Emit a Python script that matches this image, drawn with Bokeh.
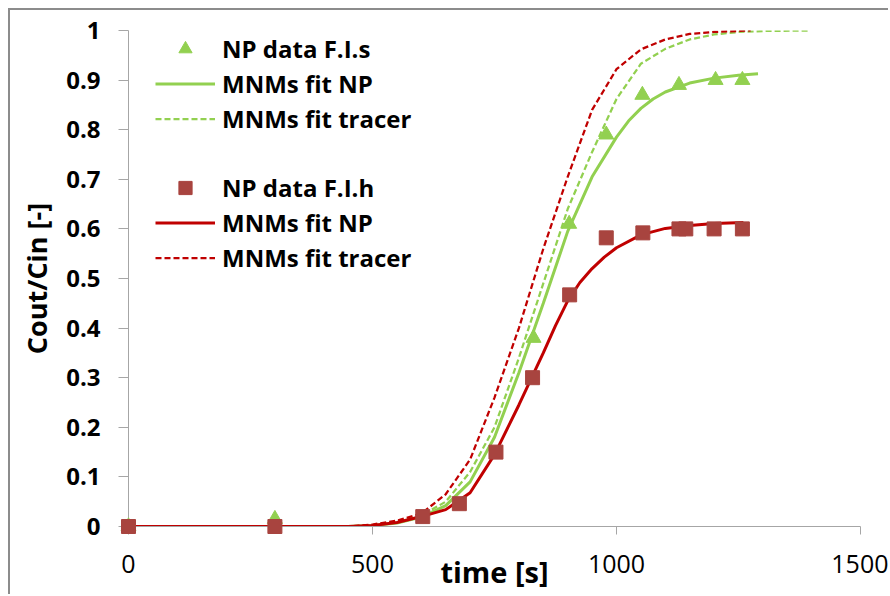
from bokeh.plotting import figure
from bokeh.models import (Legend, LegendItem, FixedTicker, CustomJSTickFormatter,
                          Range1d)
from bokeh.embed import file_html
from bokeh.resources import INLINE

# ---------------- data ----------------
# measured points, series F.I.s (green triangles)
t_data_s = [0, 300, 830, 903, 979, 1053, 1128, 1203, 1258]
c_data_s = [0.0, 0.015, 0.38, 0.61, 0.79, 0.87, 0.89, 0.90, 0.90]

# measured points, series F.I.h (red squares)
t_data_h = [0, 300, 603, 678, 753, 828, 904, 979, 1054, 1128, 1142, 1200, 1258]
c_data_h = [0.0, 0.0, 0.02, 0.046, 0.15, 0.30, 0.467, 0.582, 0.592, 0.60, 0.60, 0.60, 0.60]

# MNMs fit NP, F.I.s (green solid)
t_fit_np_s = [0, 450, 500, 550, 600, 650, 700, 750, 800, 850, 900, 950, 1000,
              1025, 1050, 1075, 1100, 1150, 1200, 1250, 1290]
c_fit_np_s = [0.0, 0.0, 0.002, 0.007, 0.019, 0.042, 0.09, 0.18, 0.31, 0.45, 0.595,
              0.705, 0.785, 0.818, 0.843, 0.862, 0.876, 0.894, 0.904, 0.91, 0.913]

# MNMs fit tracer, F.I.s (green dashed)
t_fit_tr_s = [0, 450, 500, 550, 600, 650, 700, 750, 800, 850, 900, 950, 1000,
              1050, 1100, 1150, 1200, 1250, 1300, 1395]
c_fit_tr_s = [0.0, 0.0, 0.003, 0.01, 0.022, 0.05, 0.11, 0.2, 0.34, 0.49, 0.64,
              0.755, 0.862, 0.933, 0.963, 0.982, 0.992, 0.997, 0.999, 1.0]

# MNMs fit NP, F.I.h (red solid)
t_fit_np_h = [0, 450, 500, 550, 600, 650, 700, 750, 800, 850, 875, 900, 925, 950,
              975, 1000, 1050, 1100, 1150, 1200, 1260]
c_fit_np_h = [0.0, 0.0, 0.002, 0.008, 0.02, 0.034, 0.068, 0.145, 0.245, 0.35, 0.405,
              0.455, 0.492, 0.52, 0.543, 0.562, 0.588, 0.601, 0.607, 0.611, 0.613]

# MNMs fit tracer, F.I.h (red dashed)
t_fit_tr_h = [0, 450, 500, 550, 600, 650, 700, 750, 800, 850, 900, 950, 1000,
              1050, 1100, 1150, 1200, 1275]
c_fit_tr_h = [0.0, 0.0, 0.004, 0.012, 0.026, 0.065, 0.135, 0.26, 0.40, 0.56, 0.705,
              0.84, 0.922, 0.962, 0.982, 0.993, 0.997, 1.0]

x_ticks = [0, 500, 1000, 1500]
y_ticks = [0, 0.1, 0.2, 0.3, 0.4, 0.5, 0.6, 0.7, 0.8, 0.9, 1.0]

labels_s = ["NP data F.I.s", "MNMs fit NP", "MNMs fit tracer"]
labels_h = ["NP data F.I.h", "MNMs fit NP", "MNMs fit tracer"]
x_title = "time [s]"
y_title = "Cout/Cin [-]"

# ---------------- styling ----------------
GREEN = "#92D050"
RED_LINE = "#C00000"
RED_MARK = "#A8443F"
AXIS = "#A6A6A6"
FONT = "Open Sans"

p = figure(width=880, height=586, output_backend="svg", toolbar_location=None,
           x_range=Range1d(0, 1500), y_range=Range1d(0, 1.0),
           min_border_left=118, min_border_right=30, min_border_top=20,
           min_border_bottom=70)
p.styles = {"margin-left": "8px", "margin-top": "8px",
            "border-top": "2px solid #8C8C8C", "border-left": "2px solid #8C8C8C"}
p.outline_line_color = None
p.grid.visible = False
p.background_fill_color = "white"
p.border_fill_color = "white"

# green group
g_fit = p.line(t_fit_np_s, c_fit_np_s, line_color=GREEN, line_width=3)
g_tr = p.line(t_fit_tr_s, c_fit_tr_s, line_color=GREEN, line_width=2.25, line_dash="6 3")
g_pts = p.scatter(t_data_s, c_data_s, marker="triangle", size=15,
                  fill_color=GREEN, line_color=GREEN, level="overlay")
# red group
r_fit = p.line(t_fit_np_h, c_fit_np_h, line_color=RED_LINE, line_width=3)
r_tr = p.line(t_fit_tr_h, c_fit_tr_h, line_color=RED_LINE, line_width=2.25, line_dash="6 3")
r_pts = p.scatter(t_data_h, c_data_h, marker="square", size=14,
                  fill_color=RED_MARK, line_color=RED_MARK, level="overlay")

# axes
xa = p.xaxis[0]
xa.ticker = FixedTicker(ticks=x_ticks)
ya = p.yaxis[0]
ya.ticker = FixedTicker(ticks=y_ticks)
ya.formatter = CustomJSTickFormatter(code="return String(Math.round(tick*10)/10);")
for ax in (xa, ya):
    ax.axis_line_color = AXIS
    ax.major_tick_line_color = AXIS
    ax.major_tick_in = 0
    ax.minor_tick_in = 0
    ax.minor_tick_out = 0
    ax.major_label_text_font = FONT
    ax.major_label_text_color = "black"
    ax.axis_label_text_font = FONT
    ax.axis_label_text_font_style = "bold"
    ax.axis_label_text_color = "black"
xa.major_tick_out = 8
ya.major_tick_out = 10
xa.major_label_text_font_size = "25px"
xa.major_label_standoff = 20
ya.major_label_text_font_size = "24px"
ya.major_label_text_font_style = "bold"
ya.major_label_standoff = 18
xa.axis_label = x_title
xa.axis_label_text_font_size = "29px"
xa.axis_label_standoff = -24
ya.axis_label = y_title
ya.axis_label_text_font_size = "27px"
ya.axis_label_standoff = 8

def make_legend(items, loc):
    lg = Legend(items=items, location=loc)
    lg.padding = 0
    lg.margin = 0
    lg.spacing = 2
    lg.glyph_width = 60
    lg.glyph_height = 33
    lg.label_height = 33
    lg.label_standoff = 7
    lg.border_line_color = None
    lg.background_fill_alpha = 0
    lg.label_text_font = FONT
    lg.label_text_font_style = "bold"
    lg.label_text_font_size = "24px"
    lg.label_text_color = "black"
    return lg

leg_s = make_legend([LegendItem(label=labels_s[0], renderers=[g_pts]),
                     LegendItem(label=labels_s[1], renderers=[g_fit]),
                     LegendItem(label=labels_s[2], renderers=[g_tr])], (27, 391.5))
leg_h = make_legend([LegendItem(label=labels_h[0], renderers=[r_pts]),
                     LegendItem(label=labels_h[1], renderers=[r_fit]),
                     LegendItem(label=labels_h[2], renderers=[r_tr])], (27, 252.5))
p.add_layout(leg_s)
p.add_layout(leg_h)

open("out.html", "w").write(file_html(p, INLINE))
